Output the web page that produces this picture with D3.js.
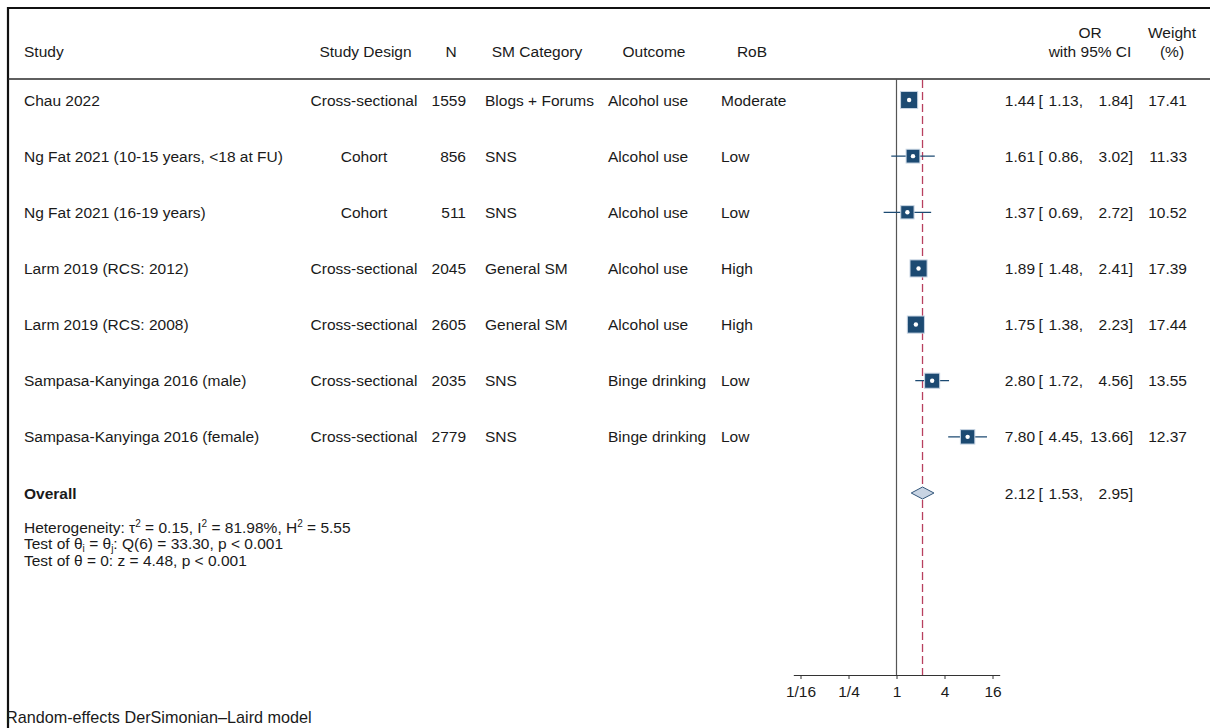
<!DOCTYPE html>
<html>
<head>
<meta charset="utf-8">
<script src="https://cdn.jsdelivr.net/npm/d3@7"></script>
<style>
  html, body { margin: 0; padding: 0; background: #fff; }
  svg { display: block; }
  text { font-family: "Liberation Sans", Arial, sans-serif; fill: #1a1a1a; }
</style>
</head>
<body>
<div id="chart"></div>
<script>
// Forest plot: social media use and alcohol outcomes (random-effects)
const studies = [
  'Chau 2022',
  'Ng Fat 2021 (10-15 years, <18 at FU)',
  'Ng Fat 2021 (16-19 years)',
  'Larm 2019 (RCS: 2012)',
  'Larm 2019 (RCS: 2008)',
  'Sampasa-Kanyinga 2016 (male)',
  'Sampasa-Kanyinga 2016 (female)'
]
const designs = ['Cross-sectional', 'Cohort', 'Cohort', 'Cross-sectional', 'Cross-sectional', 'Cross-sectional', 'Cross-sectional']
const sampleN = [1559, 856, 511, 2045, 2605, 2035, 2779]
const smCategory = ['Blogs + Forums', 'SNS', 'SNS', 'General SM', 'General SM', 'SNS', 'SNS']
const outcomes = ['Alcohol use', 'Alcohol use', 'Alcohol use', 'Alcohol use', 'Alcohol use', 'Binge drinking', 'Binge drinking']
const rob = ['Moderate', 'Low', 'Low', 'High', 'High', 'Low', 'Low']
const oddsRatio = [1.44, 1.61, 1.37, 1.89, 1.75, 2.80, 7.80]
const ciLow = [1.13, 0.86, 0.69, 1.48, 1.38, 1.72, 4.45]
const ciHigh = [1.84, 3.02, 2.72, 2.41, 2.23, 4.56, 13.66]
const weights = [17.41, 11.33, 10.52, 17.39, 17.44, 13.55, 12.37]

const overall = { or: 2.12, low: 1.53, high: 2.95 }
const heterogeneity = { tau2: '0.15', i2: '81.98%', h2: '5.55', q: '33.30', df: 6, z: '4.48' }

const tickValues = [1 / 16, 1 / 4, 1, 4, 16]
const tickLabels = ['1/16', '1/4', '1', '4', '16']

const W = 1210, H = 728
const NAVY = '#1c4a72'
const FS = 15.5

const svg = d3.select('#chart').append('svg')
  .attr('width', W).attr('height', H)

// Frame (top + left only)
svg.append('line').attr('x1', 8).attr('x2', W).attr('y1', 8).attr('y2', 8)
  .attr('stroke', '#111').attr('stroke-width', 2.2)
svg.append('line').attr('x1', 8).attr('x2', 8).attr('y1', 7).attr('y2', H)
  .attr('stroke', '#111').attr('stroke-width', 2.2)

// Scales
const x = d3.scaleLog().base(2)
  .domain([Math.pow(2, -4.3), Math.pow(2, 4.3)])
  .range([896.5 - 103.2, 896.5 + 103.2])
const y = d3.scaleLinear().domain([0, 7]).range([100, 493])

const axisY = 675
const headerRule = 79

// Header
const headers = [
  { t: 'Study', x: 24, a: 'start' },
  { t: 'Study Design', x: 365.5, a: 'middle' },
  { t: 'N', x: 451, a: 'middle' },
  { t: 'SM Category', x: 537, a: 'middle' },
  { t: 'Outcome', x: 654, a: 'middle' },
  { t: 'RoB', x: 752, a: 'middle' }
]
svg.append('g').selectAll('text').data(headers).join('text')
  .attr('x', d => d.x).attr('y', 56.5)
  .attr('text-anchor', d => d.a)
  .attr('font-size', FS)
  .text(d => d.t)

svg.append('text').attr('x', 1090).attr('y', 37.5).attr('text-anchor', 'middle').attr('font-size', FS).text('OR')
svg.append('text').attr('x', 1090).attr('y', 56.5).attr('text-anchor', 'middle').attr('font-size', FS).text('with 95% CI')
svg.append('text').attr('x', 1172).attr('y', 37.5).attr('text-anchor', 'middle').attr('font-size', FS).text('Weight')
svg.append('text').attr('x', 1172).attr('y', 56.5).attr('text-anchor', 'middle').attr('font-size', FS).text('(%)')

svg.append('line').attr('x1', 8).attr('x2', W).attr('y1', headerRule).attr('y2', headerRule)
  .attr('stroke', '#2a2a2a').attr('stroke-width', 1.3)

// Row text columns
const rows = studies.map((s, i) => ({
  i, s, design: designs[i], n: sampleN[i], cat: smCategory[i], out: outcomes[i], rob: rob[i],
  or: oddsRatio[i], lo: ciLow[i], hi: ciHigh[i], w: weights[i]
}))

const rowG = svg.append('g').attr('class', 'rows')
  .attr('font-size', FS)
const rowSel = rowG.selectAll('g').data(rows).join('g')
  .attr('transform', d => `translate(0,${y(d.i) + 5.5})`)

rowSel.append('text').attr('x', 24).text(d => d.s)
rowSel.append('text').attr('x', 364).attr('text-anchor', 'middle').text(d => d.design)
rowSel.append('text').attr('x', 466).attr('text-anchor', 'end').text(d => d.n)
rowSel.append('text').attr('x', 485).text(d => d.cat)
rowSel.append('text').attr('x', 608).text(d => d.out)
rowSel.append('text').attr('x', 721).text(d => d.rob)

// "est [ lo,  hi]" in aligned pieces
function ciText(g, or, lo, hi) {
  g.append('text').attr('x', 1035).attr('text-anchor', 'end').text(or.toFixed(2))
  g.append('text').attr('x', 1038.5).text('[')
  g.append('text').attr('x', 1083).attr('text-anchor', 'end').text(lo.toFixed(2) + ',')
  g.append('text').attr('x', 1133).attr('text-anchor', 'end').text(hi.toFixed(2) + ']')
}
rowSel.each(function (d) {
  const g = d3.select(this)
  ciText(g, d.or, d.lo, d.hi)
  g.append('text').attr('x', 1187).attr('text-anchor', 'end').text(d.w.toFixed(2))
})

// Overall row text
const ovY = y(7)
const ovG = svg.append('g').attr('font-size', FS).attr('transform', `translate(0,${ovY + 5.5})`)
ovG.append('text').attr('x', 24).attr('font-weight', 'bold').text('Overall')
ciText(ovG, overall.or, overall.low, overall.high)

// Heterogeneity notes
const notes = svg.append('g').attr('font-size', FS)
const SUP = 10
const n1 = notes.append('text').attr('x', 24).attr('y', 532.5)
n1.append('tspan').text('Heterogeneity: τ')
n1.append('tspan').attr('font-size', SUP).attr('dy', -6).text('2')
n1.append('tspan').attr('dy', 6).text(` = ${heterogeneity.tau2}, I`)
n1.append('tspan').attr('font-size', SUP).attr('dy', -6).text('2')
n1.append('tspan').attr('dy', 6).text(` = ${heterogeneity.i2}, H`)
n1.append('tspan').attr('font-size', SUP).attr('dy', -6).text('2')
n1.append('tspan').attr('dy', 6).text(` = ${heterogeneity.h2}`)

const n2 = notes.append('text').attr('x', 24).attr('y', 549)
n2.append('tspan').text('Test of θ')
n2.append('tspan').attr('font-size', SUP).attr('dy', 3).text('i')
n2.append('tspan').attr('dy', -3).text(' = θ')
n2.append('tspan').attr('font-size', SUP).attr('dy', 3).text('j')
n2.append('tspan').attr('dy', -3).text(`: Q(${heterogeneity.df}) = ${heterogeneity.q}, p < 0.001`)

notes.append('text').attr('x', 24).attr('y', 565.5)
  .text(`Test of θ = 0: z = ${heterogeneity.z}, p < 0.001`)

// Footnote
svg.append('text').attr('x', 6).attr('y', 722.5).attr('font-size', 16.2)
  .text('Random-effects DerSimonian–Laird model')

// Reference line at OR = 1
svg.append('line')
  .attr('x1', x(1)).attr('x2', x(1))
  .attr('y1', headerRule).attr('y2', axisY)
  .attr('stroke', '#555').attr('stroke-width', 1.2)

// Overall effect dashed line
svg.append('line')
  .attr('x1', x(overall.or)).attr('x2', x(overall.or))
  .attr('y1', headerRule + 1).attr('y2', axisY)
  .attr('stroke', '#b8405f').attr('stroke-width', 1.3)
  .attr('stroke-dasharray', '8,4')

// CI lines
svg.append('g').selectAll('line').data(rows).join('line')
  .attr('x1', d => x(d.lo)).attr('x2', d => x(d.hi))
  .attr('y1', d => y(d.i)).attr('y2', d => y(d.i))
  .attr('stroke', NAVY).attr('stroke-width', 1.3)

// Weighted squares (area ~ weight)
const side = w => 4.1 * Math.sqrt(w)
svg.append('g').selectAll('rect').data(rows).join('rect')
  .attr('x', d => x(d.or) - side(d.w) / 2)
  .attr('y', d => y(d.i) - side(d.w) / 2)
  .attr('width', d => side(d.w)).attr('height', d => side(d.w))
  .attr('fill', NAVY).attr('stroke', '#c9d6e4').attr('stroke-width', 1)

svg.append('g').selectAll('circle').data(rows).join('circle')
  .attr('cx', d => x(d.or)).attr('cy', d => y(d.i))
  .attr('r', 2.2).attr('fill', '#fff')

// Overall diamond
const dh = 6
svg.append('path')
  .attr('d', `M${x(overall.low)},${ovY} L${x(overall.or)},${ovY - dh} L${x(overall.high)},${ovY} L${x(overall.or)},${ovY + dh} Z`)
  .attr('fill', '#c8d4e3').attr('stroke', '#33567a').attr('stroke-width', 1)

// X axis
svg.append('g')
  .attr('transform', `translate(0,${axisY})`)
  .call(d3.axisBottom(x).tickValues(tickValues).tickFormat((d, i) => tickLabels[i]).tickSizeInner(4).tickSizeOuter(0))
  .call(g => {
    g.select('.domain').attr('stroke', '#333')
    g.selectAll('.tick line').attr('stroke', '#333')
    g.selectAll('.tick text')
      .attr('font-size', FS).attr('fill', '#1a1a1a')
      .attr('font-family', '"Liberation Sans", Arial, sans-serif')
      .attr('dy', '0.95em')
  })
</script>
</body>
</html>
